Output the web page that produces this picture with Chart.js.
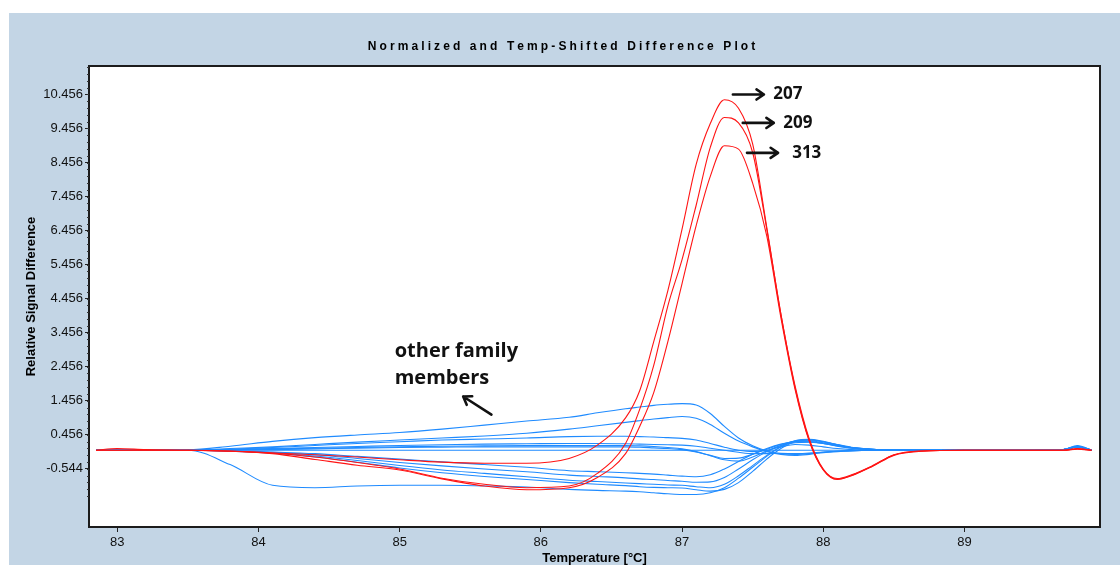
<!DOCTYPE html>
<html>
<head>
<meta charset="utf-8">
<title>Normalized and Temp-Shifted Difference Plot</title>
<script src="https://cdn.jsdelivr.net/npm/chart.js@4.4.1/dist/chart.umd.min.js"></script>
<style>
    html, body { margin: 0; padding: 0; background: #ffffff; }
    #wrap { width: 1120px; height: 565px; position: relative; }
</style>
</head>
<body>
<div id="wrap"><canvas id="diffPlot" width="1120" height="565"></canvas></div>
<script>
// temperatures shared by every curve (°C)
const temps = [
    82.85, 83.0, 83.2, 83.5, 83.8, 84.1, 84.4, 84.7, 85.0, 85.3, 85.6, 85.9,
    86.2, 86.4, 86.6, 86.7, 86.8, 86.9, 87.0, 87.1, 87.2, 87.3, 87.4, 87.5,
    87.6, 87.7, 87.8, 87.9, 88.0, 88.1, 88.2, 88.35, 88.5, 88.7, 89.0, 89.4,
    89.7, 89.8, 89.9
];

// highlighted samples (red)
const sample207 = [
    0, 0.05, 0.02, 0, -0.03, -0.08, -0.13, -0.2, -0.28, -0.35, -0.38, -0.38,
    -0.24, 0.15, 0.95, 1.75, 3.2, 4.7, 6.5, 8.4, 9.6, 10.3, 10.05, 9.0,
    6.55, 4.0, 1.9, 0.35, -0.55, -0.83, -0.72, -0.45, -0.13, -0.02, 0, 0,
    0, 0.05, 0
];
const sample209 = [
    0, 0, 0, 0, -0.03, -0.08, -0.2, -0.36, -0.55, -0.82, -1.0, -1.1,
    -1.05, -0.68, 0.2, 1.2, 2.5, 4.25, 5.6, 7.2, 8.9, 9.78, 9.62, 8.75,
    6.5, 4.0, 1.85, 0.3, -0.57, -0.85, -0.74, -0.46, -0.14, -0.02, 0, 0,
    0, 0.04, 0
];
const sample313 = [
    0, 0, 0, 0, -0.02, -0.1, -0.27, -0.44, -0.58, -0.84, -1.05, -1.16,
    -1.1, -0.8, -0.1, 0.7, 1.7, 3.2, 4.9, 6.6, 8.05, 8.95, 8.85, 7.85,
    6.3, 3.9, 1.8, 0.28, -0.58, -0.86, -0.75, -0.47, -0.15, -0.03, 0, 0,
    0, 0.03, 0
];

// other family members (blue)
const famRef = [
    0, 0, 0, 0, 0, 0, 0, 0, 0, 0, 0, 0,
    0, 0, 0, 0, 0, 0, 0, 0, 0, 0, 0, 0,
    0, 0, 0, 0, 0, 0, 0, 0, 0, 0, 0, 0,
    0.02, 0.14, 0
];
const famA = [
    0, 0, 0, 0.01, 0.12, 0.26, 0.37, 0.45, 0.52, 0.62, 0.74, 0.86,
    0.97, 1.1, 1.22, 1.27, 1.32, 1.35, 1.37, 1.33, 1.08, 0.7, 0.36, 0.13,
    -0.02, -0.1, -0.12, -0.1, -0.06, -0.03, -0.01, 0, 0, 0, 0, 0,
    0.02, 0.12, 0
];
const famB = [
    0, 0, 0, 0, 0.05, 0.1, 0.17, 0.24, 0.3, 0.36, 0.42, 0.5,
    0.62, 0.72, 0.82, 0.87, 0.92, 0.96, 0.99, 0.94, 0.76, 0.5, 0.27, 0.1,
    -0.04, -0.12, -0.15, -0.12, -0.07, -0.04, -0.02, 0, 0, 0, 0, 0,
    0.02, 0.1, 0
];
const famC = [
    0, 0, 0, 0, 0.03, 0.08, 0.14, 0.2, 0.25, 0.3, 0.33, 0.36,
    0.4, 0.41, 0.41, 0.4, 0.39, 0.37, 0.35, 0.3, 0.2, 0.09, 0.0, -0.04,
    0.0, 0.1, 0.17, 0.15, 0.1, 0.05, 0.02, 0, 0, 0, 0, 0,
    0.02, 0.1, 0
];
const famD = [
    0, 0, 0, 0, 0.02, 0.05, 0.08, 0.11, 0.14, 0.16, 0.18, 0.19,
    0.2, 0.2, 0.19, 0.18, 0.17, 0.16, 0.15, 0.12, 0.06, 0.0, -0.06, -0.1,
    -0.1, -0.09, -0.1, -0.08, -0.05, -0.03, -0.01, 0, 0, 0, 0, 0,
    0.02, 0.1, 0
];
const famE = [
    0, 0, 0, 0, 0.01, 0.02, 0.04, 0.06, 0.08, 0.09, 0.1, 0.1,
    0.1, 0.1, 0.1, 0.09, 0.07, 0.05, 0.02, -0.05, -0.15, -0.24, -0.23, -0.12,
    0.03, 0.17, 0.25, 0.25, 0.2, 0.12, 0.06, 0.02, 0, 0, 0, 0,
    0.02, 0.12, 0
];
const famF = [
    0, 0, 0, 0, 0.02, 0.04, 0.06, 0.08, 0.1, 0.12, 0.13, 0.14,
    0.14, 0.14, 0.14, 0.13, 0.11, 0.08, 0.04, -0.04, -0.16, -0.28, -0.32, -0.2,
    -0.02, 0.14, 0.22, 0.24, 0.2, 0.14, 0.08, 0.03, 0.01, 0, 0, 0,
    0.02, 0.1, 0
];
const famG = [
    0, 0, 0, 0, -0.01, -0.05, -0.1, -0.18, -0.26, -0.34, -0.42, -0.5,
    -0.6, -0.63, -0.66, -0.68, -0.7, -0.73, -0.76, -0.78, -0.72, -0.55, -0.33, -0.12,
    0.05, 0.18, 0.25, 0.25, 0.2, 0.13, 0.07, 0.02, 0, 0, 0, 0,
    0.02, 0.1, 0
];
const famH = [
    0, 0, 0, 0, -0.02, -0.06, -0.13, -0.24, -0.36, -0.46, -0.55, -0.63,
    -0.73, -0.77, -0.81, -0.84, -0.86, -0.89, -0.91, -0.94, -0.93, -0.8, -0.55, -0.28,
    -0.04, 0.14, 0.26, 0.28, 0.22, 0.14, 0.07, 0.02, 0, 0, 0, 0,
    0.02, 0.1, 0
];
const famI = [
    0, 0, 0, 0, -0.02, -0.08, -0.17, -0.3, -0.45, -0.58, -0.68, -0.78,
    -0.88, -0.92, -0.96, -0.98, -1.0, -1.02, -1.03, -1.07, -1.1, -1.0, -0.75, -0.45,
    -0.15, 0.1, 0.28, 0.32, 0.26, 0.17, 0.09, 0.03, 0, 0, 0, 0,
    0.02, 0.1, 0
];
const famJ = [
    0, 0, 0, 0, -0.03, -0.09, -0.2, -0.35, -0.52, -0.66, -0.77, -0.86,
    -0.95, -1.0, -1.04, -1.07, -1.09, -1.1, -1.11, -1.16, -1.2, -1.15, -0.95, -0.62,
    -0.26, 0.05, 0.25, 0.3, 0.25, 0.16, 0.08, 0.03, 0, 0, 0, 0,
    0.02, 0.1, 0
];
const famK = [
    0, 0, 0, 0, -0.42, -1.03, -1.1, -1.05, -1.03, -1.03, -1.05, -1.08,
    -1.15, -1.18, -1.2, -1.22, -1.25, -1.28, -1.3, -1.3, -1.25, -1.1, -0.82, -0.5,
    -0.18, 0.1, 0.27, 0.3, 0.25, 0.16, 0.08, 0.03, 0, 0, 0, 0,
    0.02, 0.12, 0
];

// axis ticks
const xTicks = [83, 84, 85, 86, 87, 88, 89];
const yTicks = [-0.544, 0.456, 1.456, 2.456, 3.456, 4.456, 5.456, 6.456, 7.456, 8.456, 9.456, 10.456];

const redSeries = [
    { name: '207', values: sample207 },
    { name: '209', values: sample209 },
    { name: '313', values: sample313 }
];
const blueSeries = [famRef, famA, famB, famC, famD, famE, famF, famG, famH, famI, famJ, famK];

const RED = '#ff1414';
const BLUE = '#1f8bff';

function toPoints(values) {
    return temps.map((t, i) => ({ x: t, y: values[i] }));
}

function lineSet(label, values, color, order) {
    return {
        label: label,
        data: toPoints(values),
        borderColor: color,
        borderWidth: 1.1,
        pointRadius: 0,
        fill: false,
        cubicInterpolationMode: 'monotone',
        order: order
    };
}

const datasets = [];
redSeries.forEach(s => datasets.push(lineSet(s.name, s.values, RED, 0)));
blueSeries.forEach((vals, i) => datasets.push(lineSet('family ' + (i + 1), vals, BLUE, 1)));

// draws text one glyph at a time so the title can be letter-spaced
function spacedText(ctx, text, cx, cy, spacing) {
    let total = 0;
    for (const ch of text) total += ctx.measureText(ch).width + spacing;
    total -= spacing;
    let x = cx - total / 2;
    ctx.textAlign = 'left';
    for (const ch of text) {
        ctx.fillText(ch, x, cy);
        x += ctx.measureText(ch).width + spacing;
    }
}

function arrow(ctx, x1, y1, x2, y2, head) {
    const ang = Math.atan2(y2 - y1, x2 - x1);
    ctx.beginPath();
    ctx.moveTo(x1, y1);
    ctx.lineTo(x2, y2);
    ctx.moveTo(x2 - head * Math.cos(ang - 0.6), y2 - head * Math.sin(ang - 0.6));
    ctx.lineTo(x2, y2);
    ctx.lineTo(x2 - head * Math.cos(ang + 0.6), y2 - head * Math.sin(ang + 0.6));
    ctx.stroke();
}

const framePlugin = {
    id: 'framePlugin',
    beforeDraw(chart) {
        const ctx = chart.ctx;
        const a = chart.chartArea;
        ctx.save();
        ctx.fillStyle = '#ffffff';
        ctx.fillRect(0, 0, chart.width, chart.height);
        ctx.fillStyle = '#c3d5e5';
        ctx.fillRect(9, 13, chart.width - 9, chart.height - 13);
        ctx.fillStyle = '#ffffff';
        ctx.fillRect(a.left, a.top, a.right - a.left, a.bottom - a.top);
        ctx.restore();
    },
    afterDraw(chart) {
        const ctx = chart.ctx;
        const a = chart.chartArea;
        const xs = chart.scales.x;
        const ys = chart.scales.y;
        ctx.save();

        // plot frame
        ctx.strokeStyle = '#1c1c1c';
        ctx.lineWidth = 2;
        ctx.strokeRect(a.left, a.top, a.right - a.left, a.bottom - a.top);

        // minor ticks on the y axis, every 0.2
        ctx.strokeStyle = '#333';
        ctx.lineWidth = 1;
        ctx.beginPath();
        for (let v = -1.344; v < ys.max; v += 0.2) {
            const py = Math.round(ys.getPixelForValue(v)) + 0.5;
            ctx.moveTo(a.left - 2, py);
            ctx.lineTo(a.left, py);
        }
        ctx.stroke();

        // chart title
        ctx.fillStyle = '#000';
        ctx.font = 'bold 12px "Liberation Sans", Arial, sans-serif';
        ctx.textBaseline = 'middle';
        spacedText(ctx, 'Normalized and Temp-Shifted Difference Plot', (a.left + a.right) / 2 - 33, 47, 3.1);

        // axis titles
        ctx.font = 'bold 13px "Liberation Sans", Arial, sans-serif';
        ctx.textAlign = 'center';
        ctx.fillText('Temperature [°C]', (a.left + a.right) / 2, 558);
        ctx.save();
        ctx.translate(31, (a.top + a.bottom) / 2);
        ctx.rotate(-Math.PI / 2);
        ctx.fillText('Relative Signal Difference', 0, 0);
        ctx.restore();

        // sample labels with arrows near the peaks
        ctx.strokeStyle = '#111';
        ctx.fillStyle = '#111';
        ctx.lineWidth = 2.6;
        ctx.lineCap = 'round';
        ctx.lineJoin = 'round';
        ctx.font = 'bold 17px "Open Sans", Lato, sans-serif';
        ctx.textAlign = 'left';
        ctx.textBaseline = 'middle';
        const marks = [
            { text: '207', t0: 87.36, t1: 87.58, v: 10.456, tx: 87.646 },
            { text: '209', t0: 87.43, t1: 87.65, v: 9.62, tx: 87.717 },
            { text: '313', t0: 87.46, t1: 87.68, v: 8.74, tx: 87.78 }
        ];
        marks.forEach(m => {
            const py = ys.getPixelForValue(m.v);
            arrow(ctx, xs.getPixelForValue(m.t0), py, xs.getPixelForValue(m.t1), py, 9);
            ctx.fillText(m.text, xs.getPixelForValue(m.tx), py);
        });

        // note for the blue curves
        ctx.font = 'bold 20px "Open Sans", Lato, sans-serif';
        ctx.textBaseline = 'alphabetic';
        const nx = xs.getPixelForValue(84.965);
        ctx.fillText('other family', nx, ys.getPixelForValue(2.75));
        ctx.fillText('members', nx, ys.getPixelForValue(1.96));
        arrow(ctx, xs.getPixelForValue(85.65), ys.getPixelForValue(1.05),
                   xs.getPixelForValue(85.45), ys.getPixelForValue(1.58), 9);

        ctx.restore();
    }
};

Chart.defaults.font.family = '"Liberation Sans", Arial, sans-serif';
Chart.defaults.color = '#000';

new Chart(document.getElementById('diffPlot'), {
    type: 'line',
    data: { datasets: datasets },
    options: {
        responsive: false,
        animation: false,
        events: [],
        layout: { padding: { top: 66, right: 20, bottom: 0, left: 0 } },
        plugins: {
            legend: { display: false },
            title: { display: false },
            tooltip: { enabled: false }
        },
        scales: {
            x: {
                type: 'linear',
                min: 82.8,
                max: 89.96,
                afterBuildTicks: scale => { scale.ticks = xTicks.map(v => ({ value: v })); },
                afterFit: scale => { scale.height = 38; },
                border: { display: false },
                grid: { drawOnChartArea: false, tickLength: 5, color: '#222' },
                ticks: { font: { size: 13 }, padding: 3, maxRotation: 0, color: '#111' }
            },
            y: {
                type: 'linear',
                min: -2.255,
                max: 11.292,
                afterBuildTicks: scale => { scale.ticks = yTicks.map(v => ({ value: v })); },
                afterFit: scale => { scale.width = 89; },
                border: { display: false },
                grid: { drawOnChartArea: false, tickLength: 4, color: '#222' },
                ticks: {
                    font: { size: 13 },
                    padding: 2,
                    color: '#111',
                    callback: v => Number(v).toFixed(3)
                }
            }
        }
    },
    plugins: [framePlugin]
});
</script>
</body>
</html>
